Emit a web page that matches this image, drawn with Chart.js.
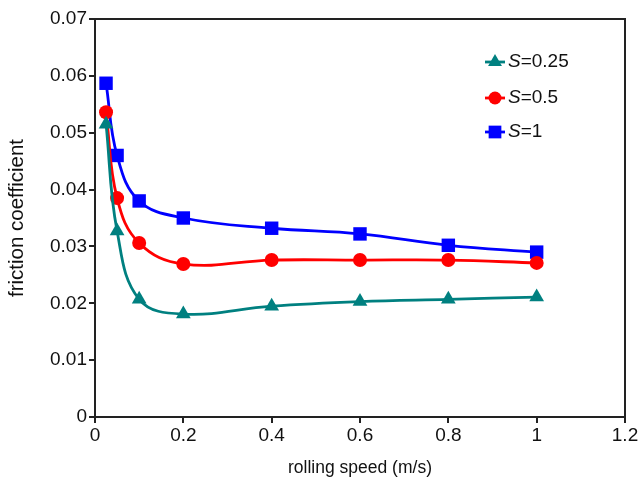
<!DOCTYPE html>
<html><head><meta charset="utf-8">
<script src="https://cdn.jsdelivr.net/npm/chart.js@4"></script>
<style>html,body{margin:0;padding:0;background:#fff}#wrap{width:640px;height:483px}</style>
</head><body><div id="wrap"><canvas id="c" width="640" height="483"></canvas></div>
<script>
const speeds = [0.025, 0.05, 0.1, 0.2, 0.4, 0.6, 0.8, 1.0];
const s025 = [0.0515, 0.0327, 0.0207, 0.0181, 0.0195, 0.0203, 0.0207, 0.0211];
const s05  = [0.0536, 0.0385, 0.0306, 0.0269, 0.0276, 0.0276, 0.0276, 0.0271];
const s1   = [0.0587, 0.0460, 0.0380, 0.0350, 0.0332, 0.0322, 0.0302, 0.0290];
const seriesLabels = ['0.25', '0.5', '1'];
const xTicks = [0, 0.2, 0.4, 0.6, 0.8, 1, 1.2];
const yTicks = [0, 0.01, 0.02, 0.03, 0.04, 0.05, 0.06, 0.07];

const colors = ['#008080', '#ff0000', '#0000ff'];
const styles = ['triangle', 'circle', 'rect'];
const radii = [8.5, 7, 9.5];
const FONT = 'Liberation Sans, Arial, sans-serif';
const AX = '#222';

function ds(i, vals) {
  return {
    label: seriesLabels[i],
    data: speeds.map((x, k) => ({x: x, y: vals[k]})),
    borderColor: colors[i], backgroundColor: colors[i],
    borderWidth: 2.8, pointStyle: styles[i], pointRadius: radii[i],
    pointBorderWidth: 0, tension: 0.4, cubicInterpolationMode: 'default'
  };
}

const frame = {
  id: 'frame',
  afterDatasetsDraw(chart) {
    const {ctx, chartArea: a} = chart;
    ctx.save();
    ctx.strokeStyle = AX; ctx.lineWidth = 2;
    ctx.strokeRect(a.left, a.top, a.right - a.left, a.bottom - a.top);
    ctx.restore();
    // legend
    ctx.save();
    const lx = 485, ys = [62, 98, 132];
    for (let i = 0; i < 3; i++) {
      const y = ys[i];
      ctx.strokeStyle = colors[i]; ctx.lineWidth = 2.8;
      ctx.beginPath(); ctx.moveTo(lx, y); ctx.lineTo(lx + 20, y); ctx.stroke();
      ctx.fillStyle = colors[i];
      Chart.helpers.drawPoint(ctx, {pointStyle: styles[i], radius: radii[i] - 0.5, borderWidth: 0}, lx + 10, y);
      ctx.fillStyle = '#111'; ctx.textBaseline = 'middle'; ctx.textAlign = 'left';
      ctx.font = 'italic 19px ' + FONT;
      ctx.fillText('S', lx + 23, y);
      const w = ctx.measureText('S').width;
      ctx.font = '19px ' + FONT;
      ctx.fillText('=' + seriesLabels[i], lx + 23 + w, y);
    }
    ctx.restore();
  }
};

new Chart(document.getElementById('c'), {
  type: 'line',
  data: { datasets: [ds(0, s025), ds(1, s05), ds(2, s1)] },
  options: {
    responsive: false, animation: false, devicePixelRatio: 1,
    layout: { padding: { left: 0, right: 15, top: 19, bottom: 0 } },
    plugins: { legend: { display: false }, tooltip: { enabled: false } },
    scales: {
      x: {
        type: 'linear', min: 0, max: 1.2,
        afterBuildTicks: s => { s.ticks = xTicks.map(v => ({value: v})); },
        afterFit: s => { s.height = 66; },
        grid: { drawOnChartArea: false, drawTicks: true, tickLength: 6, color: AX, lineWidth: 2 },
        border: { display: true, color: AX, width: 2 },
        ticks: { color: '#111', font: { family: FONT, size: 19 }, padding: 1, maxRotation: 0,
                 callback: v => String(Math.round(v * 10) / 10) },
        title: { display: true, text: 'rolling speed (m/s)', color: '#111', font: { family: FONT, size: 17.5 }, padding: { top: 5 } }
      },
      y: {
        type: 'linear', min: 0, max: 0.07,
        afterBuildTicks: s => { s.ticks = yTicks.map(v => ({value: v})); },
        afterFit: s => { s.width = 95; },
        grid: { drawOnChartArea: false, drawTicks: true, tickLength: 6, color: AX, lineWidth: 2 },
        border: { display: true, color: AX, width: 2 },
        ticks: { color: '#111', font: { family: FONT, size: 19 }, padding: 2,
                 callback: v => v === 0 ? '0' : v.toFixed(2) },
        title: { display: true, text: 'friction coefficient', color: '#111', font: { family: FONT, size: 20.5 }, padding: { top: 5, bottom: 0 } }
      }
    }
  },
  plugins: [frame]
});
</script></body></html>
